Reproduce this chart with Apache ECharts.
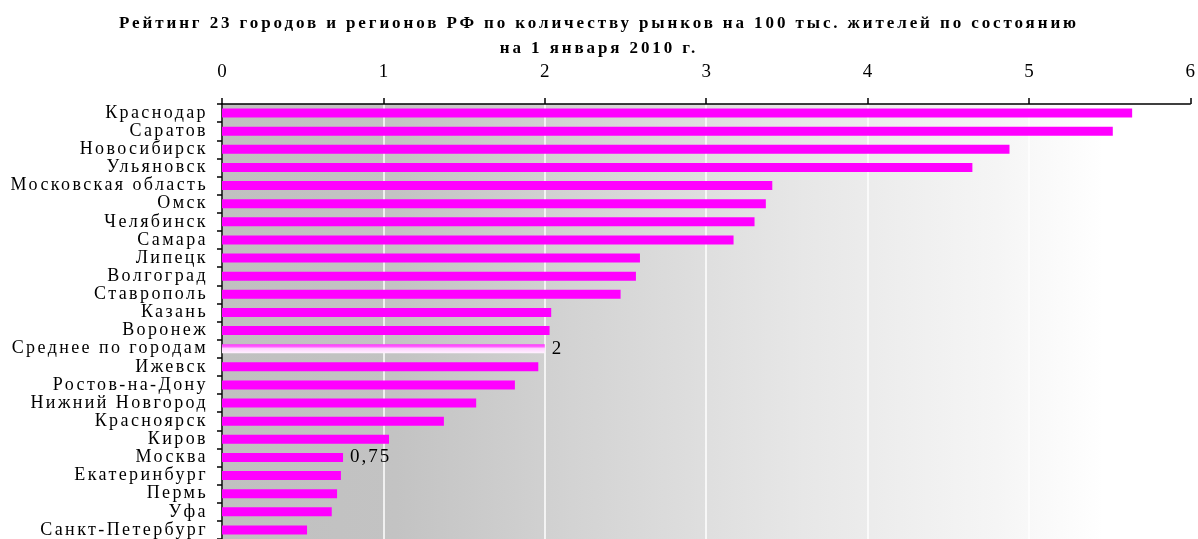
<!DOCTYPE html>
<html>
<head>
<meta charset="utf-8">
<script src="https://cdn.jsdelivr.net/npm/echarts@6/dist/echarts.min.js"></script>
<style>
html,body{margin:0;padding:0;background:#fff;}
#c{width:1198px;height:539px;}
</style>
</head>
<body>
<div id="c"></div>
<script>
const titleLines = ["Рейтинг 23 городов и регионов РФ по количеству рынков на 100 тыс. жителей по состоянию", "на 1 января 2010 г."];
const categories = ["Краснодар","Саратов","Новосибирск","Ульяновск","Московская область","Омск","Челябинск","Самара","Липецк","Волгоград","Ставрополь","Казань","Воронеж","Среднее по городам","Ижевск","Ростов-на-Дону","Нижний Новгород","Красноярск","Киров","Москва","Екатеринбург","Пермь","Уфа","Санкт-Петербург"];
const values = [5.64,5.52,4.88,4.65,3.41,3.37,3.30,3.17,2.59,2.565,2.47,2.04,2.03,2,1.96,1.815,1.575,1.375,1.035,0.75,0.737,0.713,0.68,0.527];
const labelledCategories = ["Среднее по городам","Москва"];
const averageCategory = "Среднее по городам";
const xTicks = [0,1,2,3,4,5,6];

// letter spacing for the wide-set text of the original
function spacingFor(s){
  s = String(s);
  if (s.indexOf('Рейтинг') === 0 || s.indexOf('на 1 января') === 0) return '2.9px';
  if (categories.indexOf(s) >= 0) return '2.4px';
  if (s.indexOf(',') >= 0) return '2px';
  return '0px';
}
const origFill = CanvasRenderingContext2D.prototype.fillText;
CanvasRenderingContext2D.prototype.fillText = function(text){
  const prev = this.letterSpacing;
  if (prev !== undefined) this.letterSpacing = spacingFor(text);
  const r = origFill.apply(this, arguments);
  if (prev !== undefined) this.letterSpacing = prev;
  return r;
};

const chart = echarts.init(document.getElementById('c'), null, {renderer:'canvas'});
const FONT = '"Liberation Serif","Times New Roman",serif';
const data = values.map((v,i)=>{
  const item = {value:v};
  if (categories[i] === averageCategory) {
    item.itemStyle = {color:new echarts.graphic.LinearGradient(0,0,0,1,[
      {offset:0,color:'#ff33ff'},{offset:0.3,color:'#ff66ff'},{offset:0.45,color:'#ffd0ff'},{offset:1,color:'#fff2ff'}])};
  }
  if (labelledCategories.indexOf(categories[i]) >= 0) {
    item.label = {show:true, position:'right', distance:7, fontFamily:FONT, fontSize:19, color:'#000',
      formatter: p => String(p.value).replace('.', ',')};
  }
  return item;
});
chart.setOption({
  animation:false,
  title:{text:titleLines.join('\n'), left:'center', top:6, textStyle:{fontFamily:FONT, fontWeight:'bold', fontSize:17, color:'#000', lineHeight:25}},
  grid:{left:222, top:104, width:969, height:436, containLabel:false,
    show:true, borderWidth:0,
    backgroundColor:new echarts.graphic.LinearGradient(0,0,1,0,[
      {offset:0,color:'#c0c0c0'},{offset:0.18,color:'#c3c3c3'},{offset:0.35,color:'#d2d2d2'},{offset:0.6,color:'#e7e7e7'},{offset:0.8,color:'#f5f5f5'},{offset:0.91,color:'#ffffff'},{offset:1,color:'#ffffff'}])},
  xAxis:{type:'value', position:'top', min:xTicks[0], max:xTicks[xTicks.length-1], interval:1,
    axisLine:{show:true, lineStyle:{color:'#000', width:1.5}},
    axisTick:{show:true, length:6, lineStyle:{color:'#000', width:1.5}},
    axisLabel:{fontFamily:FONT, fontSize:19, color:'#000', margin:22},
    splitLine:{show:true, lineStyle:{color:'#ffffff', width:1.5}}},
  yAxis:{type:'category', inverse:true, data:categories,
    axisLine:{show:true, lineStyle:{color:'#000', width:1.5}},
    axisTick:{show:true, length:5, lineStyle:{color:'#000', width:1.5}},
    axisLabel:{fontFamily:FONT, fontSize:18, color:'#000', margin:14, interval:0}},
  series:[{type:'bar', data:data, barWidth:9, itemStyle:{color:'#ff00ff'}}]
});
</script>
</body>
</html>
